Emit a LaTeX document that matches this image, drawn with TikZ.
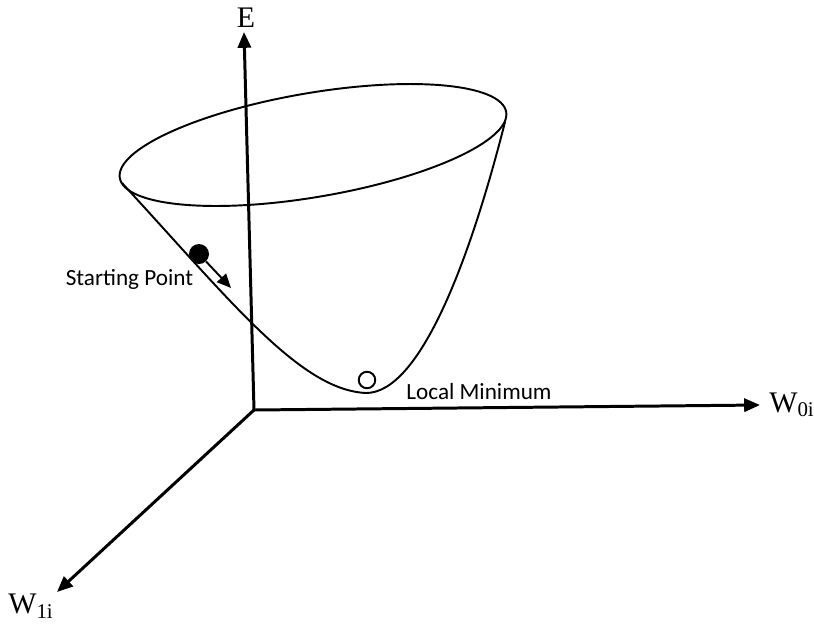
\documentclass[tikz,border=0pt]{standalone}
\usepackage{fontspec}
\setmainfont{Liberation Serif}
\newfontfamily\calibri{Carlito}
\usepackage{tikz}
\usetikzlibrary{arrows.meta}
\tikzset{
  axis/.style={line width=1.7pt,-{Triangle[length=9pt,width=7.5pt]}},
  bowl/.style={line width=1.1pt},
  axlabel/.style={inner sep=0pt,font=\fontsize{17}{20}\selectfont},
  note/.style={inner sep=0pt,font=\calibri\fontsize{13.2}{16}\selectfont}
}

\begin{document}
\begin{tikzpicture}
\useasboundingbox (0,0) rectangle (16.28,-12.46);
\coordinate (o) at (5.08,-8.2);
\coordinate (etip) at (4.88,-0.64);
\coordinate (wtip) at (15.2,-8.1);
\coordinate (vtip) at (1.14,-11.84);
\coordinate (rimL) at (2.44,-3.66);
\coordinate (rimR) at (10.10,-2.44);
\coordinate (bot) at (7.32,-7.86);
\draw[bowl,rotate around={9.7:(6.26,-2.9)}] (6.26,-2.9) ellipse (3.92 and 1.04);
\draw[bowl] (rimL) .. controls (4.6,-6.0) and (6.0,-7.8) .. (bot)
  .. controls (8.4,-7.86) and (9.4,-5.2) .. (rimR);
\draw[axis] (o) -- (etip);
\draw[axis] (o) -- (wtip);
\draw[axis] (o) -- (vtip);
\node[axlabel] (e) at (4.92,-0.36) {E};
\node[axlabel] (w0) at (15.84,-8.1) {W\textsubscript{0i}};
\node[axlabel] (w1) at (0.62,-12.12) {W\textsubscript{1i}};
\node[circle,fill,inner sep=0pt,minimum size=0.4cm] (start) at (3.98,-5.08) {};
\coordinate (stip) at (4.62,-5.76);
\draw[line width=1.1pt,-{Triangle[length=8pt,width=7pt]}] (start) -- (stip);
\node[note] (sl) at (2.59,-5.58) {Starting Point};
\node[circle,draw,line width=1.1pt,fill=white,inner sep=0pt,minimum size=0.33cm] (lmin) at (7.34,-7.6) {};
\node[note] (ml) at (9.58,-7.84) {Local Minimum};
\end{tikzpicture}
\end{document}
